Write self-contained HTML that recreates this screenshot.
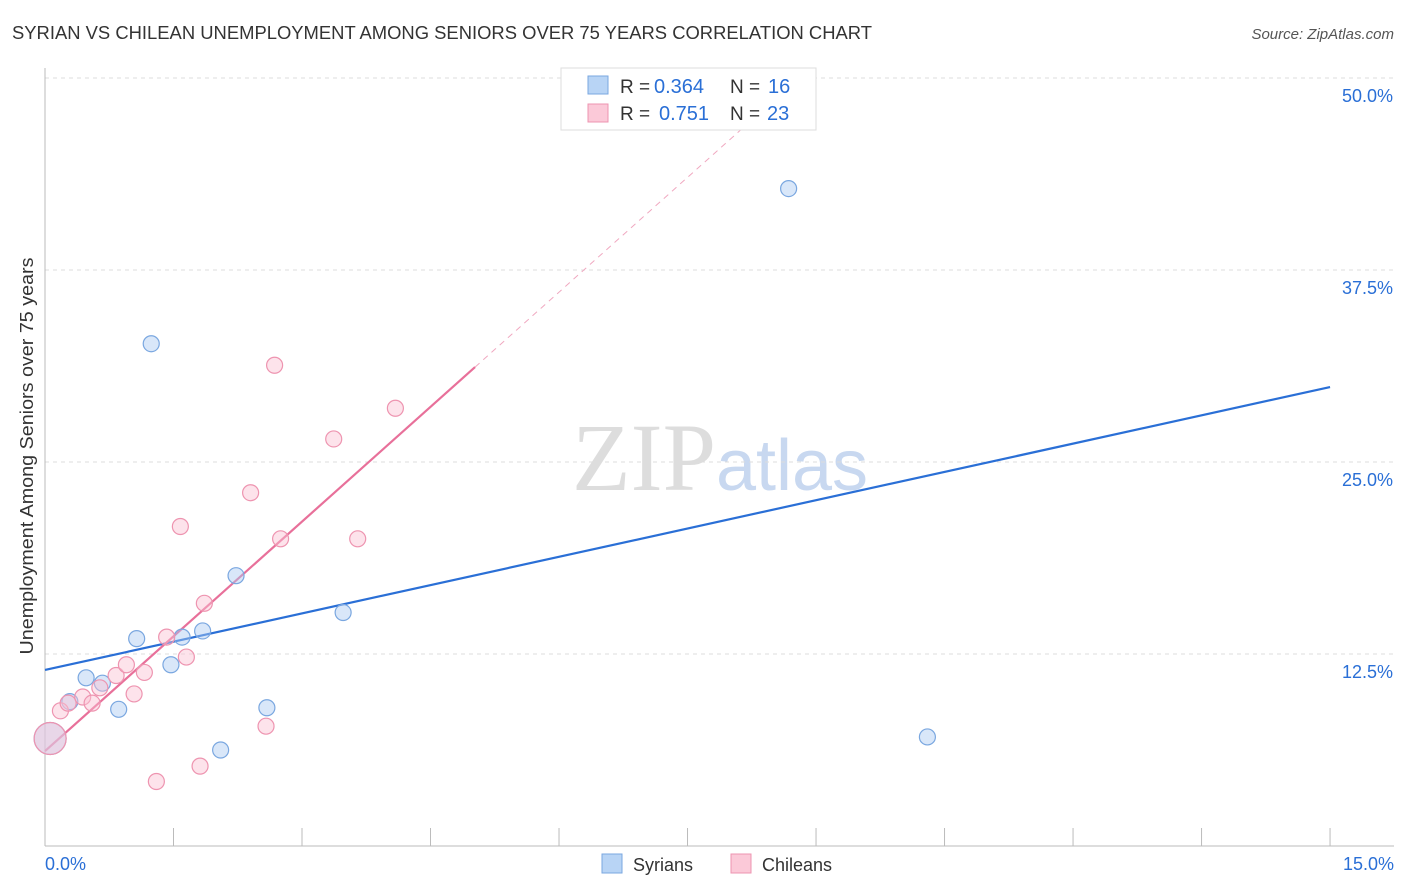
<!DOCTYPE html>
<html><head><meta charset="utf-8"><style>
body{margin:0;background:#fff;font-family:"Liberation Sans",sans-serif;}
svg{display:block}
</style></head><body>
<svg id="chart" width="1406" height="892" xmlns="http://www.w3.org/2000/svg">
<text x="12" y="39" font-size="18" fill="#333" textLength="860" lengthAdjust="spacingAndGlyphs">SYRIAN VS CHILEAN UNEMPLOYMENT AMONG SENIORS OVER 75 YEARS CORRELATION CHART</text>
<text x="1394" y="39" font-size="15" fill="#555" text-anchor="end" font-style="italic">Source: ZipAtlas.com</text>
<text x="720" y="490" font-size="96" text-anchor="middle" font-family="Liberation Serif,serif" fill="#ddd">ZIP<tspan fill="#c8d8f0" font-family="Liberation Sans,sans-serif" font-size="72">atlas</tspan></text>
<text transform="translate(33,456) rotate(-90)" font-size="18" fill="#333" text-anchor="middle" textLength="397" lengthAdjust="spacingAndGlyphs">Unemployment Among Seniors over 75 years</text>
<g id="grid"></g><g id="axes"></g><g id="lines"></g><g id="points"></g>
<g>
<rect x="561" y="68" width="255" height="62" fill="#fff" stroke="#ddd"/>
<rect x="588" y="76" width="20" height="18" fill="#b8d4f5" stroke="#7aa7e0"/>
<rect x="588" y="104" width="20" height="18" fill="#fbc9d8" stroke="#ee94b0"/>
<text x="620" y="93" font-size="19" fill="#333">R =</text>
<text x="654" y="93" font-size="20" fill="#2a6fd6">0.364</text>
<text x="730" y="93" font-size="19" fill="#333">N =</text>
<text x="768" y="93" font-size="20" fill="#2a6fd6">16</text>
<text x="620" y="120" font-size="19" fill="#333">R =</text>
<text x="659" y="120" font-size="20" fill="#2a6fd6">0.751</text>
<text x="730" y="120" font-size="19" fill="#333">N =</text>
<text x="767" y="120" font-size="20" fill="#2a6fd6">23</text>
</g>
<g>
<rect x="602" y="854" width="20" height="19" fill="#b8d4f5" stroke="#7aa7e0"/>
<text x="633" y="871" font-size="18" fill="#333">Syrians</text>
<rect x="731" y="854" width="20" height="19" fill="#fbc9d8" stroke="#ee94b0"/>
<text x="762" y="871" font-size="18" fill="#333">Chileans</text>
</g>
</svg>
<script>
const syrX=[0.06,0.29,0.48,0.67,0.86,1.07,1.24,1.47,1.6,1.84,2.05,2.23,2.59,3.48,8.68,10.3];
const syrY=[7.0,9.4,10.95,10.6,8.9,13.5,32.7,11.8,13.6,14.0,6.25,17.6,9.0,15.2,42.8,7.1];
const chiX=[0.06,0.18,0.27,0.44,0.55,0.64,0.83,0.95,1.04,1.16,1.3,1.42,1.58,1.65,1.81,1.86,2.4,2.58,2.68,2.75,3.37,3.65,4.09];
const chiY=[7.0,8.8,9.3,9.7,9.3,10.3,11.1,11.8,9.9,11.3,4.2,13.6,20.8,12.3,5.2,15.8,23.0,7.8,31.3,20.0,26.5,20.0,28.5];
const syrTrend=[11.46,29.88]; // y at x=0 and x=15
const chiTrend=[6.18,4.98];   // intercept, slope
const yTicks=[12.5,25,37.5,50];
const xTickCount=11;
const X=v=>45+v*85.67, Y=v=>846-v*15.36;
const NS="http://www.w3.org/2000/svg";
function mk(t,a,p){const e=document.createElementNS(NS,t);for(const k in a)e.setAttribute(k,a[k]);p.appendChild(e);return e;}
const grid=document.getElementById('grid'),axes=document.getElementById('axes'),lines=document.getElementById('lines'),pts=document.getElementById('points');
yTicks.forEach(t=>{
 const l=mk('line',{x1:45,x2:1394,y1:Y(t),y2:Y(t),stroke:'#ddd','stroke-dasharray':'4,4'},grid);
 
 
 const tx=mk('text',{x:1393,y:Y(t)+24,'font-size':18,fill:'#2a6fd6','text-anchor':'end'},axes);
 tx.textContent=t.toFixed(1)+'%';
 
 
});
const ax=mk('line',{x1:45,x2:1394,y1:846,y2:846,stroke:'#bbb'},axes);


const ay=mk('line',{x1:45,x2:45,y1:68,y2:846,stroke:'#bbb'},axes);


for(let i=0;i<xTickCount;i++){const x=X(i*1.5);const t=mk('line',{x1:x,x2:x,y1:828,y2:846,stroke:'#bbb'},axes);
 
 }
[[0,'0.0%','start',45],[15,'15.0%','end',1394]].forEach(d=>{const t=mk('text',{x:d[3],y:870,'font-size':18,fill:'#2a6fd6','text-anchor':d[2]},axes);t.textContent=d[1];
 
 });
const bl=mk('line',{x1:X(0),y1:Y(syrTrend[0]),x2:X(15),y2:Y(syrTrend[1]),stroke:'#2a6fd6','stroke-width':2.2},lines);


const pe=5.02,pd=8.8;
const pl=mk('line',{x1:X(0),y1:Y(chiTrend[0]),x2:X(pe),y2:Y(chiTrend[0]+chiTrend[1]*pe),stroke:'#e8709a','stroke-width':2.2},lines);


const pdash=mk('line',{x1:X(pe),y1:Y(chiTrend[0]+chiTrend[1]*pe),x2:X(pd),y2:Y(chiTrend[0]+chiTrend[1]*pd),stroke:'#f0a8c0','stroke-width':1,'stroke-dasharray':'6,5'},lines);


syrX.forEach((x,i)=>{const c=mk('circle',{cx:X(x),cy:Y(syrY[i]),r:i==0?16:8,fill:'rgba(170,202,242,0.45)',stroke:'#7aa7e0','stroke-width':1.2},pts);
 
 });
chiX.forEach((x,i)=>{const c=mk('circle',{cx:X(x),cy:Y(chiY[i]),r:i==0?16:8,fill:'rgba(250,192,210,0.45)',stroke:'#ee94b0','stroke-width':1.2},pts);
 
 });
</script>
</body></html>
